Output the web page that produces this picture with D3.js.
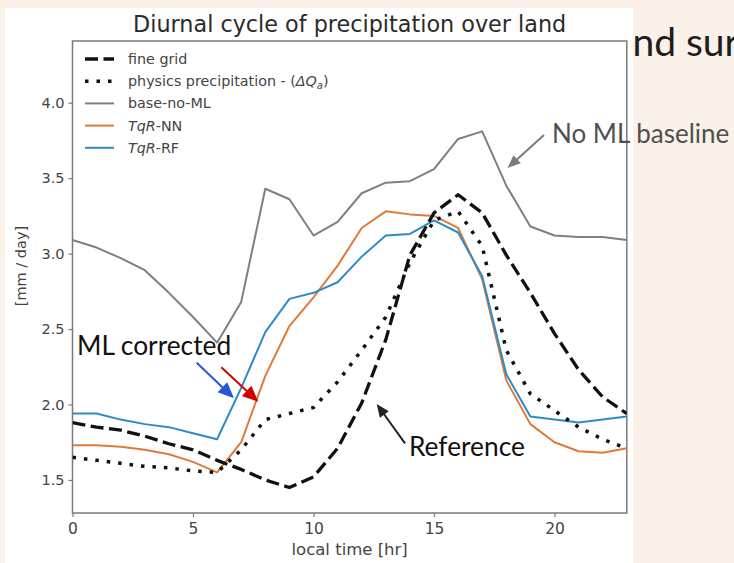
<!DOCTYPE html>
<html><head><meta charset="utf-8">
<script src="https://cdn.jsdelivr.net/npm/d3@7"></script>
<style>body{margin:0;background:#faf1e8;overflow:hidden} svg{display:block}</style>
</head><body><svg id="c" width="734" height="563"></svg>
<script>
const hours = [0,1,2,3,4,5,6,7,8,9,10,11,12,13,14,15,16,17,18,19,20,21,22,23];
const fineGrid      = [1.88,1.85,1.83,1.79,1.74,1.70,1.63,1.57,1.50,1.45,1.52,1.71,2.01,2.43,2.99,3.27,3.39,3.27,2.99,2.74,2.47,2.23,2.05,1.94];
const physicsPrecip = [1.65,1.63,1.61,1.59,1.58,1.56,1.55,1.70,1.90,1.94,1.98,2.15,2.36,2.58,2.94,3.22,3.28,3.05,2.36,2.07,1.96,1.85,1.77,1.71];
const baseNoML      = [3.09,3.04,2.97,2.89,2.74,2.58,2.41,2.68,3.43,3.36,3.12,3.21,3.40,3.47,3.48,3.56,3.76,3.81,3.45,3.18,3.12,3.11,3.11,3.09];
const tqrNN         = [1.73,1.73,1.72,1.70,1.67,1.62,1.55,1.75,2.19,2.52,2.71,2.92,3.17,3.28,3.26,3.25,3.17,2.83,2.16,1.87,1.75,1.69,1.68,1.71];
const tqrRF         = [1.94,1.94,1.90,1.87,1.85,1.81,1.77,2.11,2.48,2.70,2.74,2.81,2.98,3.12,3.13,3.22,3.14,2.85,2.20,1.92,1.90,1.88,1.90,1.92];
const xTicks = [0,5,10,15,20];
const yTicks = [1.5,2.0,2.5,3.0,3.5,4.0];
const seriesNames = ["fine grid","physics precipitation - ","base-no-ML","TqR-NN","TqR-RF"];

const svg = d3.select("#c");
const W = 734, H = 563;
const M = {left:72.5, right:626.8, top:41, bottom:513};

// slide background text (partially covered by chart image)
svg.append("rect").attr("width",W).attr("height",H).attr("fill","#faf1e8");
svg.append("text").attr("x",613).attr("y",56).attr("font-family","Lato").attr("font-size",39)
  .attr("fill","#1e1e1e").text("and sur");
svg.append("rect").attr("x",5).attr("y",8).attr("width",628).attr("height",H).attr("fill","#ffffff");

const x = d3.scaleLinear().domain([0,23]).range([M.left,M.right]);
const y = d3.scaleLinear().domain([1.281,4.409]).range([M.bottom,M.top]);

// title
svg.append("text").attr("x",(M.left+M.right)/2).attr("y",32).attr("text-anchor","middle")
  .attr("font-family","DejaVu Sans").attr("font-size",22.3).attr("fill","#2b2b2b")
  .text("Diurnal cycle of precipitation over land");

// axes
const axisColor = "#7a7a7a";
const gx = svg.append("g").attr("transform",`translate(0,${M.bottom})`)
  .call(d3.axisBottom(x).tickValues(xTicks).tickFormat(d3.format("d")).tickSize(4).tickPadding(4));
const gy = svg.append("g").attr("transform",`translate(${M.left},0)`)
  .call(d3.axisLeft(y).tickValues(yTicks).tickFormat(d3.format(".1f")).tickSize(4).tickPadding(4));
[gx,gy].forEach(g=>{
  g.select(".domain").remove();
  g.selectAll(".tick line").attr("stroke",axisColor).attr("stroke-width",1.2);
  g.selectAll(".tick text").attr("font-family","DejaVu Sans").attr("font-size",14.5).attr("fill","#444");
});
gx.selectAll(".tick text").attr("font-size",15.5).attr("dy","0.85em");

// frame
svg.append("rect").attr("x",M.left).attr("y",M.top).attr("width",M.right-M.left).attr("height",M.bottom-M.top)
  .attr("fill","none").attr("stroke",axisColor).attr("stroke-width",1.5);

// axis labels
svg.append("text").attr("x",(M.left+M.right)/2).attr("y",555).attr("text-anchor","middle")
  .attr("font-family","DejaVu Sans").attr("font-size",16.5).attr("fill","#444").text("local time [hr]");
svg.append("text").attr("transform","translate(26,266) rotate(-90)").attr("text-anchor","middle")
  .attr("font-family","DejaVu Sans").attr("font-size",14.5).attr("fill","#444").text("[mm / day]");

// series
const series = [
  {name:seriesNames[2], vals:baseNoML, color:"#7f7f7f", w:2, dash:null},
  {name:seriesNames[3], vals:tqrNN, color:"#e07a38", w:2, dash:null},
  {name:seriesNames[4], vals:tqrRF, color:"#2e8bc6", w:2, dash:null},
  {name:seriesNames[0], vals:fineGrid, color:"#111", w:3.3, dash:"13,5.5"},
  {name:seriesNames[1], vals:physicsPrecip, color:"#111", w:3.5, dash:"3.5,8"},
];
const line = d3.line().x((d,i)=>x(hours[i])).y(d=>y(d));
svg.append("clipPath").attr("id","pc").append("rect")
  .attr("x",M.left).attr("y",M.top).attr("width",M.right-M.left).attr("height",M.bottom-M.top);
const pg = svg.append("g").attr("clip-path","url(#pc)");
series.forEach(s=>{
  pg.append("path").attr("d",line(s.vals)).attr("fill","none").attr("stroke",s.color)
    .attr("stroke-width",s.w).attr("stroke-dasharray",s.dash).attr("stroke-linejoin","round");
});

// legend
const legendOrder = [series[3],series[4],series[0],series[1],series[2]];
legendOrder.forEach((s,i)=>{
  const yy = 59 + i*22.2;
  svg.append("line").attr("x1",85).attr("x2",114).attr("y1",yy).attr("y2",yy)
    .attr("stroke",s.color).attr("stroke-width",s.w).attr("stroke-dasharray",s.dash);
  const t = svg.append("text").attr("x",128).attr("y",yy+5).attr("font-family","DejaVu Sans")
    .attr("font-size",14.3).attr("fill","#444");
  if (s.name.startsWith("TqR")) {
    t.append("tspan").attr("font-style","italic").text("TqR");
    t.append("tspan").text(s.name.slice(3));
  } else if (s.name.startsWith("physics")) {
    t.append("tspan").text(s.name + "(");
    t.append("tspan").attr("font-style","italic").text("ΔQ");
    t.append("tspan").attr("font-style","italic").attr("font-size",10).attr("dy",3).text("a");
    t.append("tspan").attr("dy",-3).text(")");
  } else t.text(s.name);
});

// annotations
function arrow(x1,y1,x2,y2,color,hl,hw,lw){
  const dx=x2-x1, dy=y2-y1, L=Math.hypot(dx,dy), ux=dx/L, uy=dy/L;
  const bx=x2-ux*hl, by=y2-uy*hl;
  svg.append("line").attr("x1",x1).attr("y1",y1).attr("x2",bx+ux*1).attr("y2",by+uy*1)
    .attr("stroke",color).attr("stroke-width",lw);
  svg.append("path").attr("d",`M${x2},${y2}L${bx-uy*hw/2},${by+ux*hw/2}L${bx+uy*hw/2},${by-ux*hw/2}Z`).attr("fill",color);
}
svg.append("text").attr("x",552).attr("y",143).attr("font-family","Lato").attr("font-size",26)
  .attr("fill","#505050").text("No ML baseline");
arrow(544,135,507.5,168,"#7a7a7a",13,11,2);
svg.append("text").attr("x",77).attr("y",354.5).attr("font-family","Lato").attr("font-size",26.3)
  .attr("fill","#111").text("ML corrected");
arrow(196.7,362.7,234,398.3,"#2457d6",16,14,2);
arrow(221.3,367.3,258.3,401.7,"#d00000",16,14,2);
svg.append("text").attr("x",409).attr("y",456).attr("font-family","Lato").attr("font-size",26.3)
  .attr("fill","#111").text("Reference");
arrow(405,443.3,376.7,404,"#222",13,11,2);
</script></body></html>
